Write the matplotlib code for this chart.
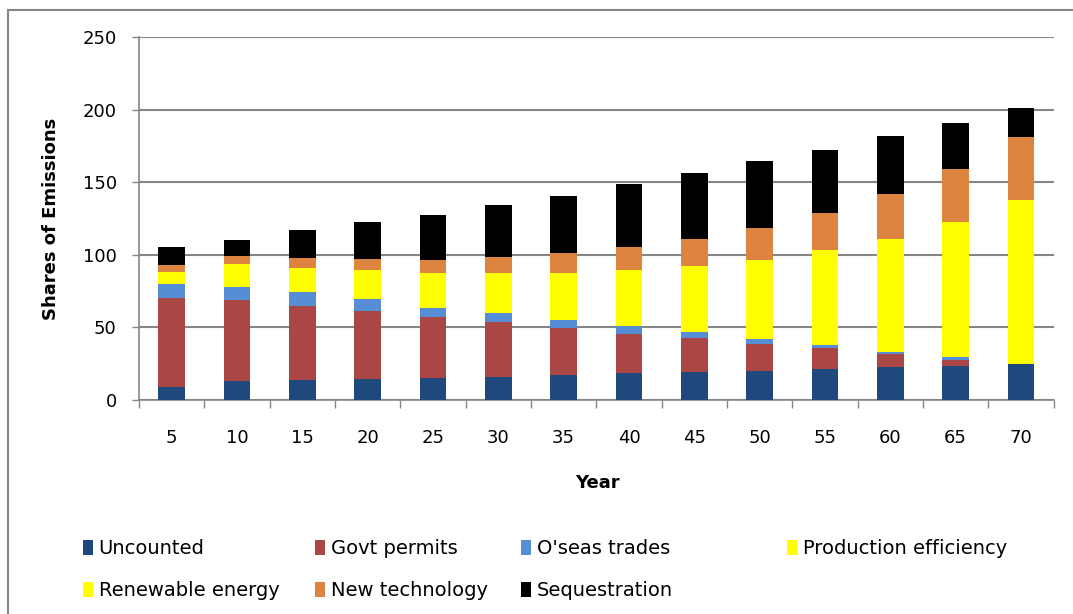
import numpy as np
import matplotlib
matplotlib.use("Agg")
import matplotlib.pyplot as plt
from matplotlib.patches import Rectangle

# values (stack order bottom -> top)
years = [5, 10, 15, 20, 25, 30, 35, 40, 45, 50, 55, 60, 65, 70]
uncounted = [9.3, 13.2, 14.1, 14.8, 15.4, 16.1, 17.0, 18.6, 19.1, 20.1, 21.7, 22.4, 23.1, 24.7]
govt_permits = [60.8, 56.0, 50.7, 46.8, 42.1, 37.3, 32.5, 27.2, 23.6, 18.7, 13.8, 9.4, 4.8, 0.2]
oseas_trades = [9.5, 8.6, 9.3, 7.8, 6.2, 6.2, 5.5, 5.3, 3.9, 3.0, 2.6, 1.6, 1.6, 0.1]
production_eff = [6.0, 9.0, 10.0, 11.0, 12.0, 13.0, 14.0, 15.0, 16.0, 17.0, 18.0, 19.0, 20.0, 21.0]
renewable = [2.4, 6.7, 7.1, 9.2, 11.7, 14.8, 18.4, 23.2, 29.7, 37.4, 47.0, 58.6, 73.2, 91.8]
new_tech = [4.8, 5.6, 6.9, 7.6, 9.2, 10.8, 14.0, 16.1, 18.7, 22.6, 25.6, 30.9, 36.5, 43.4]
sequestration = [12.5, 11.3, 18.9, 25.4, 31.1, 36.4, 39.4, 43.2, 45.2, 45.7, 43.6, 39.9, 31.8, 19.6]

series = [
    ("Uncounted", uncounted, "#1f497d"),
    ("Govt permits", govt_permits, "#aa4643"),
    ("O'seas trades", oseas_trades, "#558ed5"),
    ("Production efficiency", production_eff, "#ffff00"),
    ("Renewable energy", renewable, "#ffff00"),
    ("New technology", new_tech, "#dc8440"),
    ("Sequestration", sequestration, "#000000"),
]

W, H = 1073, 614
fig = plt.figure(figsize=(W / 100, H / 100), dpi=100)
ax = fig.add_axes([0.1295, 0.3485, 0.8525, 0.5912])

x = np.arange(len(years))
bottom = np.zeros(len(years))
handles = []
for name, vals, col in series:
    h = ax.bar(x, vals, width=0.41, bottom=bottom, color=col, label=name, zorder=3)
    handles.append(h)
    bottom += np.array(vals)

grey = "#868686"
ax.set_ylim(0, 250)
ax.set_xlim(-0.5, len(years) - 0.5)
ax.set_yticks(range(0, 251, 50))
ax.yaxis.grid(True, color=grey, linewidth=1.5, zorder=0)
ax.set_xticks(x)
ax.set_xticklabels([str(y) for y in years])
ax.set_xticks(np.arange(-0.5, len(years), 1), minor=True)
ax.tick_params(axis="x", which="major", length=0, pad=21, labelsize=13)
ax.tick_params(axis="x", which="minor", length=6, color=grey, width=1)
ax.tick_params(axis="y", length=5, color=grey, width=1, pad=11, labelsize=13)

for s in ["top", "right"]:
    ax.spines[s].set_visible(False)
for s in ["left", "bottom"]:
    ax.spines[s].set_color(grey)
    ax.spines[s].set_linewidth(1.2)

ax.set_ylabel("Shares of Emissions", fontsize=13, fontweight="bold", labelpad=16)
fig.text(0.557, 1 - 483 / H, "Year", ha="center", va="center", fontsize=13, fontweight="bold")

# legend: one small legend per column so the columns sit where the reference has them
columns = [(83, [0, 4]), (315, [1, 5]), (521, [2, 6]), (787, [3])]
for left, idx in columns:
    leg = fig.legend([handles[i] for i in idx], [series[i][0] for i in idx],
                     loc="upper left", bbox_to_anchor=(left / W, 1 - 539 / H), ncol=1,
                     frameon=False, fontsize=14, handlelength=0.5, handleheight=0.8,
                     handletextpad=0.3, labelspacing=1.2, borderpad=0, borderaxespad=0)

# outer chart frame, cut off at the right and bottom like the reference
fig.patches.append(Rectangle((8 / W, -0.05), 1.2, 1.05 - 10 / H, transform=fig.transFigure,
                             fill=False, edgecolor=grey, linewidth=1.5))

fig.savefig("out.png", dpi=100)
